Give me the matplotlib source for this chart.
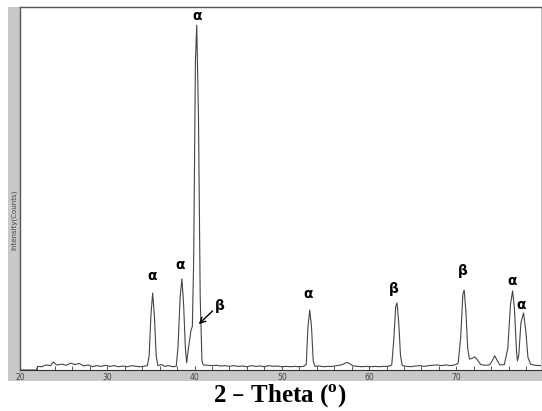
import matplotlib.pyplot as plt
from matplotlib.patches import Rectangle
from matplotlib.ticker import MultipleLocator

# 2-theta (deg) and intensity (counts)
two_theta = [20.0, 21.9, 22.0, 22.5, 23.0, 23.5, 23.8, 24.2, 24.8, 25.3, 25.8, 26.3,
             26.8, 27.3, 27.8, 28.3, 28.8, 29.3, 29.8, 30.3, 30.8, 31.3, 31.8, 32.3,
             32.8, 33.3, 33.8, 34.3, 34.6, 34.8, 35.0, 35.2, 35.4, 35.6, 35.8, 36.2,
             36.6, 37.0, 37.5, 37.9, 38.1, 38.35, 38.55, 38.75, 38.95, 39.1, 39.3, 39.6,
             39.75, 39.9, 40.1, 40.25, 40.45, 40.65, 40.85, 41.0, 41.5, 42.0, 42.5, 43.0,
             43.5, 44.0, 44.5, 45.0, 45.5, 46.0, 46.5, 47.0, 47.5, 48.0, 48.5, 49.0,
             49.5, 50.0, 50.5, 51.0, 51.5, 52.0, 52.5, 52.8, 53.0, 53.2, 53.4, 53.6,
             53.8, 54.3, 54.8, 55.3, 55.8, 56.3, 56.8, 57.2, 57.5, 57.8, 58.2, 58.7,
             59.2, 59.7, 60.2, 60.7, 61.2, 61.7, 62.2, 62.6, 62.85, 63.05, 63.2, 63.4,
             63.6, 63.8, 64.3, 64.8, 65.3, 65.8, 66.3, 66.8, 67.3, 67.8, 68.3, 68.8,
             69.3, 69.8, 70.2, 70.5, 70.75, 70.9, 71.1, 71.3, 71.5, 71.8, 72.1, 72.4,
             72.8, 73.3, 73.8, 74.1, 74.4, 74.7, 75.0, 75.5, 75.9, 76.2, 76.45, 76.65,
             76.9, 77.0, 77.15, 77.4, 77.7, 77.95, 78.2, 78.5, 79.0, 79.7]
counts = [0, 0, 10, 9, 14, 12, 22, 14, 16, 13, 19, 15,
          18, 11, 14, 9, 12, 10, 13, 10, 12, 9, 11, 9,
          12, 10, 9, 11, 12, 40, 150, 212, 150, 40, 12, 15,
          10, 12, 9, 10, 60, 200, 251, 180, 60, 20, 60, 110,
          120, 300, 850, 950, 700, 200, 25, 14, 13, 12, 13, 11,
          12, 10, 12, 10, 11, 9, 12, 10, 11, 9, 12, 10,
          11, 9, 10, 9, 10, 9, 10, 15, 120, 165, 120, 25,
          10, 11, 9, 10, 10, 12, 14, 18, 21, 17, 11, 10,
          9, 10, 9, 10, 9, 10, 10, 14, 90, 175, 185, 130,
          40, 12, 10, 9, 11, 12, 10, 12, 13, 14, 12, 14,
          12, 14, 18, 90, 210, 220, 160, 60, 30, 32, 36, 28,
          15, 13, 14, 25, 39, 25, 14, 15, 60, 180, 218, 170,
          50, 25, 40, 130, 157, 110, 35, 16, 13, 12]

# phase labels (symbol, x, y)
phase_sym = ['α', 'α', 'α', 'β', 'α', 'β', 'β', 'α', 'α']
phase_x = [35.1, 38.4, 40.3, 42.9, 53.0, 62.8, 70.7, 76.4, 77.4]
phase_y = [259, 289, 975, 176, 209, 223, 273, 245, 179]

fig = plt.figure(figsize=(5.42, 4.11), dpi=100)
fig.add_artist(Rectangle((8 / 542, 30 / 411), 534 / 542, 374 / 411,
                         transform=fig.transFigure, facecolor='#c8c8c8',
                         edgecolor='none', zorder=-1))
ax = fig.add_axes([20 / 542, 41 / 411, 521 / 542, 363 / 411])
ax.set_facecolor('white')

ax.plot(two_theta, counts, color='#454545', lw=0.8)
ax.set_xlim(20, 79.7)
ax.set_ylim(0, 1000)

for s in ['left', 'top']:
    ax.spines[s].set_color('#555555')
    ax.spines[s].set_linewidth(1)
ax.spines['right'].set_visible(False)
ax.spines['bottom'].set_color('#333333')
ax.spines['bottom'].set_linewidth(0.8)

ax.xaxis.set_major_locator(MultipleLocator(10))
ax.xaxis.set_minor_locator(MultipleLocator(2))
ax.tick_params(axis='x', which='both', direction='in', length=3, width=0.7,
               color='#555555', labelsize=5.5, labelcolor='#444444', pad=2)
ax.set_yticks([])

fig.text(14 / 542, 1 - 220 / 411, 'Intensity(Counts)', rotation=90, fontsize=5,
         color='#444444', ha='center', va='center')

for s, x, y in zip(phase_sym, phase_x, phase_y):
    ax.text(x, y, s, fontsize=10, fontweight='bold', ha='center', va='center',
            color='black')

ax.annotate('', xy=(40.25, 121), xytext=(42.3, 168),
            arrowprops=dict(arrowstyle='->', color='black', lw=1))

fig.text(280 / 542, 1 - 396 / 411, '2 – Theta ($^\\mathregular{o}$)',
         fontsize=18, fontweight='bold', family='Liberation Serif',
         ha='center', va='center')

fig.savefig('out.png', dpi=100)
